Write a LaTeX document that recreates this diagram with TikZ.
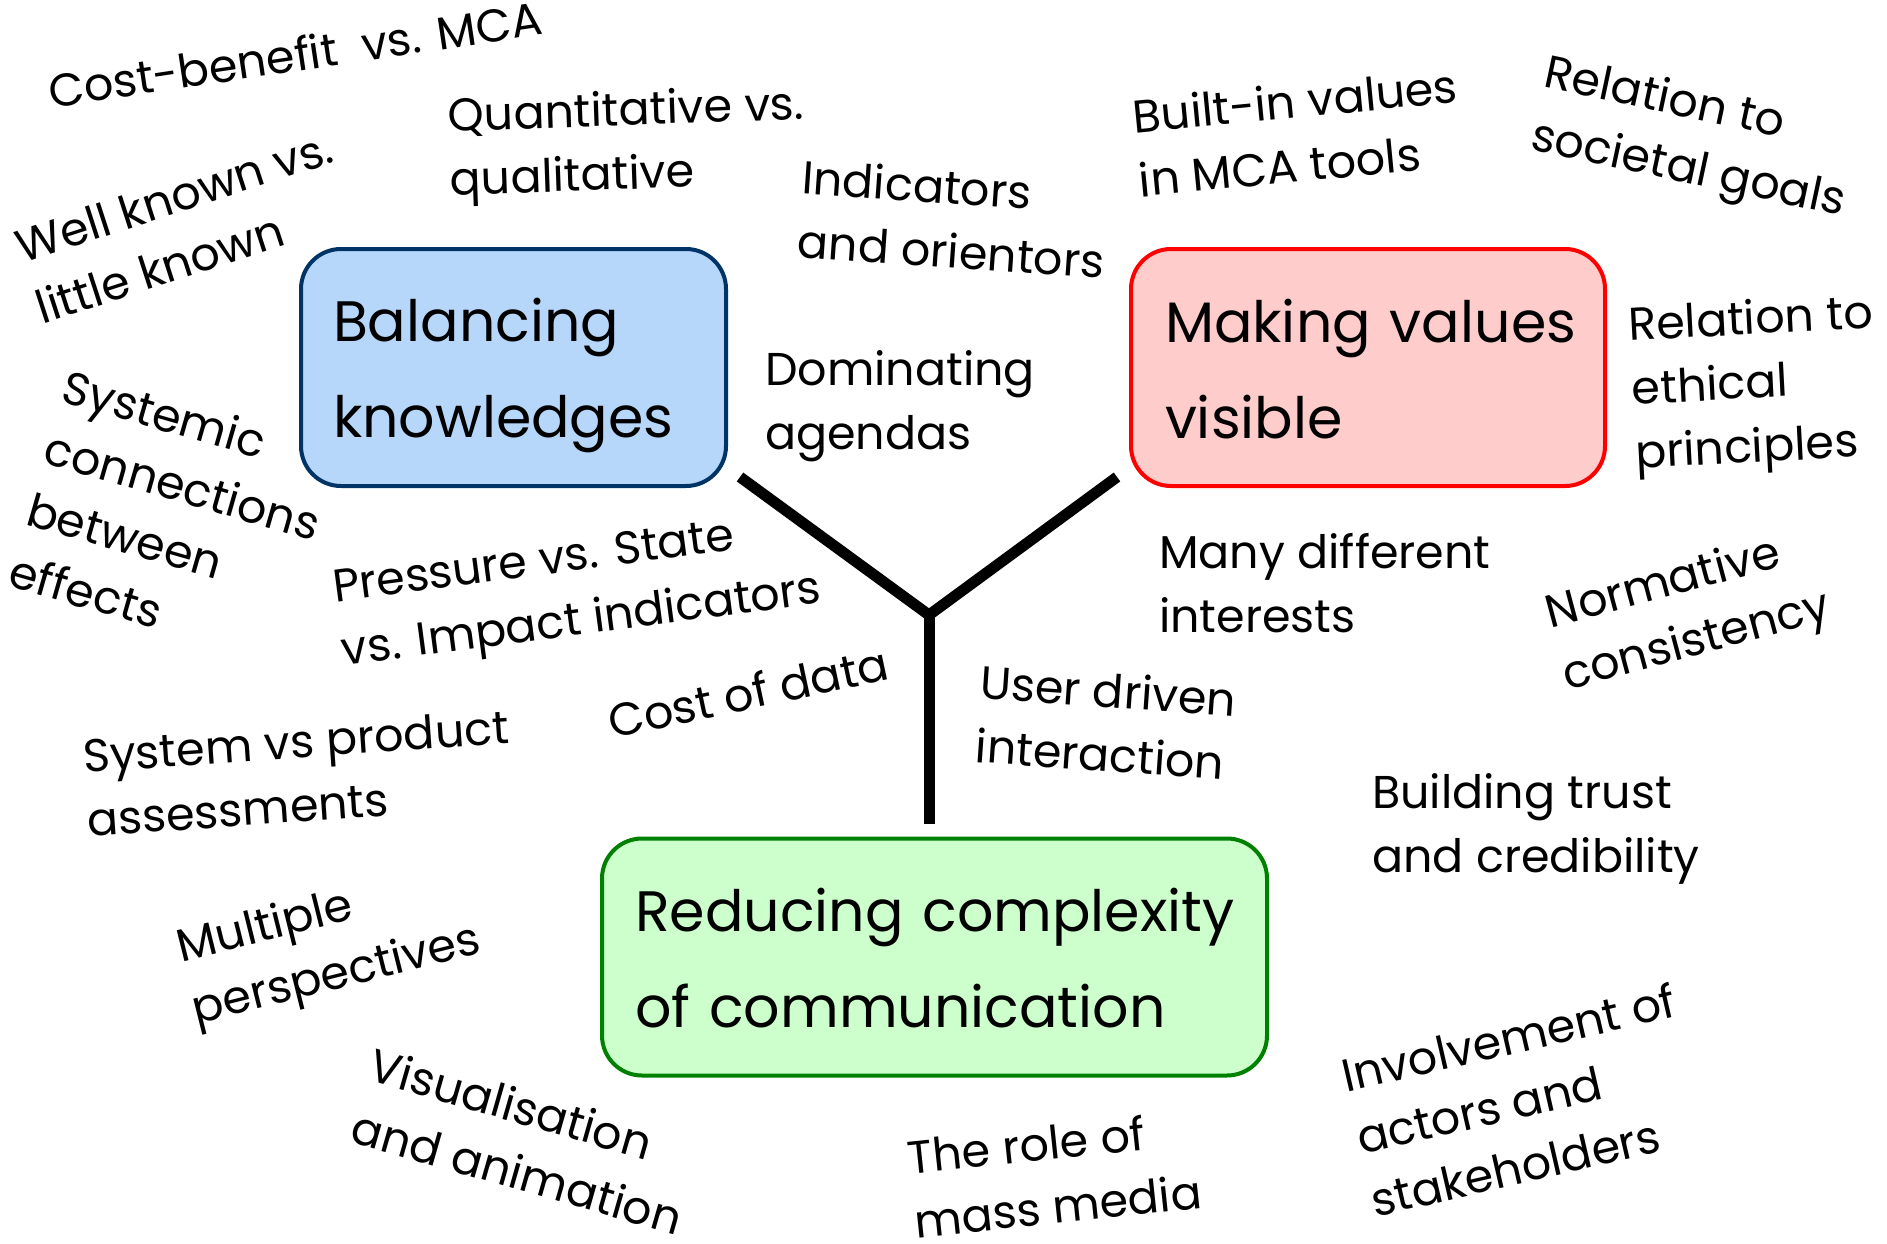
\documentclass[tikz,border=0pt]{standalone}
\usepackage{fontspec}
\setmainfont{Poppins}
\definecolor{bfill}{RGB}{183,215,250}
\definecolor{bdraw}{RGB}{0,51,102}
\definecolor{rfill}{RGB}{255,204,204}
\definecolor{rdraw}{RGB}{255,0,0}
\definecolor{gfill}{RGB}{204,255,204}
\definecolor{gdraw}{RGB}{0,128,0}
\newcommand{\bstrut}{\rule{0pt}{60pt}}
\newcommand{\dstrut}{\rule[-15pt]{0pt}{15pt}}
\begin{document}
\begin{tikzpicture}[x=1pt,y=-1pt,
  lbl/.style={font=\fontsize{46}{64}\selectfont, align=left, inner sep=0pt},
  bigbox/.style={rounded corners=40pt, line width=4pt, align=left,
    font=\fontsize{57}{96}\selectfont, minimum height=237pt, inner ysep=0pt},
  arm/.style={line width=11pt}]
\useasboundingbox (0,0) rectangle (1887,1244);

% main boxes
\node[bigbox, draw=bdraw, fill=bfill, text width=361pt, inner xsep=32pt] (bk) at (513.5,367.5) {\bstrut\mbox{Balancing}\\\mbox{knowledges}};
\node[bigbox, draw=rdraw, fill=rfill, text width=406pt, inner xsep=34pt] (mv) at (1368,367.5) {\bstrut\mbox{Making values}\\\mbox{visible}\dstrut};
\node[bigbox, draw=gdraw, fill=gfill, text width=599pt, inner xsep=33pt] (rc) at (934.5,957) {\bstrut\mbox{Reducing complexity}\\\mbox{of communication}\dstrut};

% Y connector
\coordinate (j) at (929,615);
\coordinate (ja) at (740,477);
\coordinate (jb) at (1117,477);
\coordinate (jc) at (929,824);
\draw[arm, line join=miter] (ja) -- (j) -- (jb);
\draw[arm] (j) -- (jc);

% labels
\node[lbl, rotate=8.5] (l1) at (295,54) {Cost-benefit~ vs. MCA};
\node[lbl, rotate=2, anchor=west] (l2) at (449,152) {Quantitative vs.\\qualitative};
\node[lbl, rotate=18] (l3) at (184,227) {Well known vs.\\little known};
\node[lbl, rotate=-4, anchor=west] (l4) at (800,208) {Indicators\\and orientors};
\node[lbl, anchor=west] (l5) at (765,406) {Dominating\\agendas};
\node[lbl, rotate=5.5, anchor=west] (l6) at (1136,148) {Built-in values\\in MCA tools};
\node[lbl, rotate=-12, anchor=west] (l7) at (1538,107) {Relation to\\societal goals};
\node[lbl, rotate=3, anchor=west] (l8) at (1632,393) {Relation to\\ethical\\principles};
\node[lbl, rotate=-16] (l9) at (174,516) {Systemic\\connections\\between\\effects};
\node[lbl, rotate=7.5, anchor=west] (l10) at (338,624) {Pressure vs. State\\vs. Impact indicators};
\node[lbl, rotate=12] (l11) at (748,692) {Cost of data};
\node[lbl, rotate=4, anchor=west] (l12) at (85,788) {System vs product\\assessments};
\node[lbl, rotate=14, anchor=west] (l13) at (186,982) {Multiple\\perspectives};
\node[lbl, rotate=-16, anchor=west] (l14) at (362,1094) {Visualisation\\and animation};
\node[lbl, rotate=6, anchor=west] (l15) at (911,1189) {The role of\\mass media};
\node[lbl, anchor=west] (l16) at (1159,583) {Many different\\interests};
\node[lbl, rotate=-4, anchor=west] (l17) at (978,713) {User driven\\interaction};
\node[lbl, rotate=15, anchor=west] (l18) at (1556,648) {Normative\\consistency};
\node[lbl, anchor=west] (l19) at (1372,829) {Building trust\\and credibility};
\node[lbl, rotate=13, anchor=west] (l20) at (1357,1138) {Involvement of\\actors and\\stakeholders};
\end{tikzpicture}
\end{document}
